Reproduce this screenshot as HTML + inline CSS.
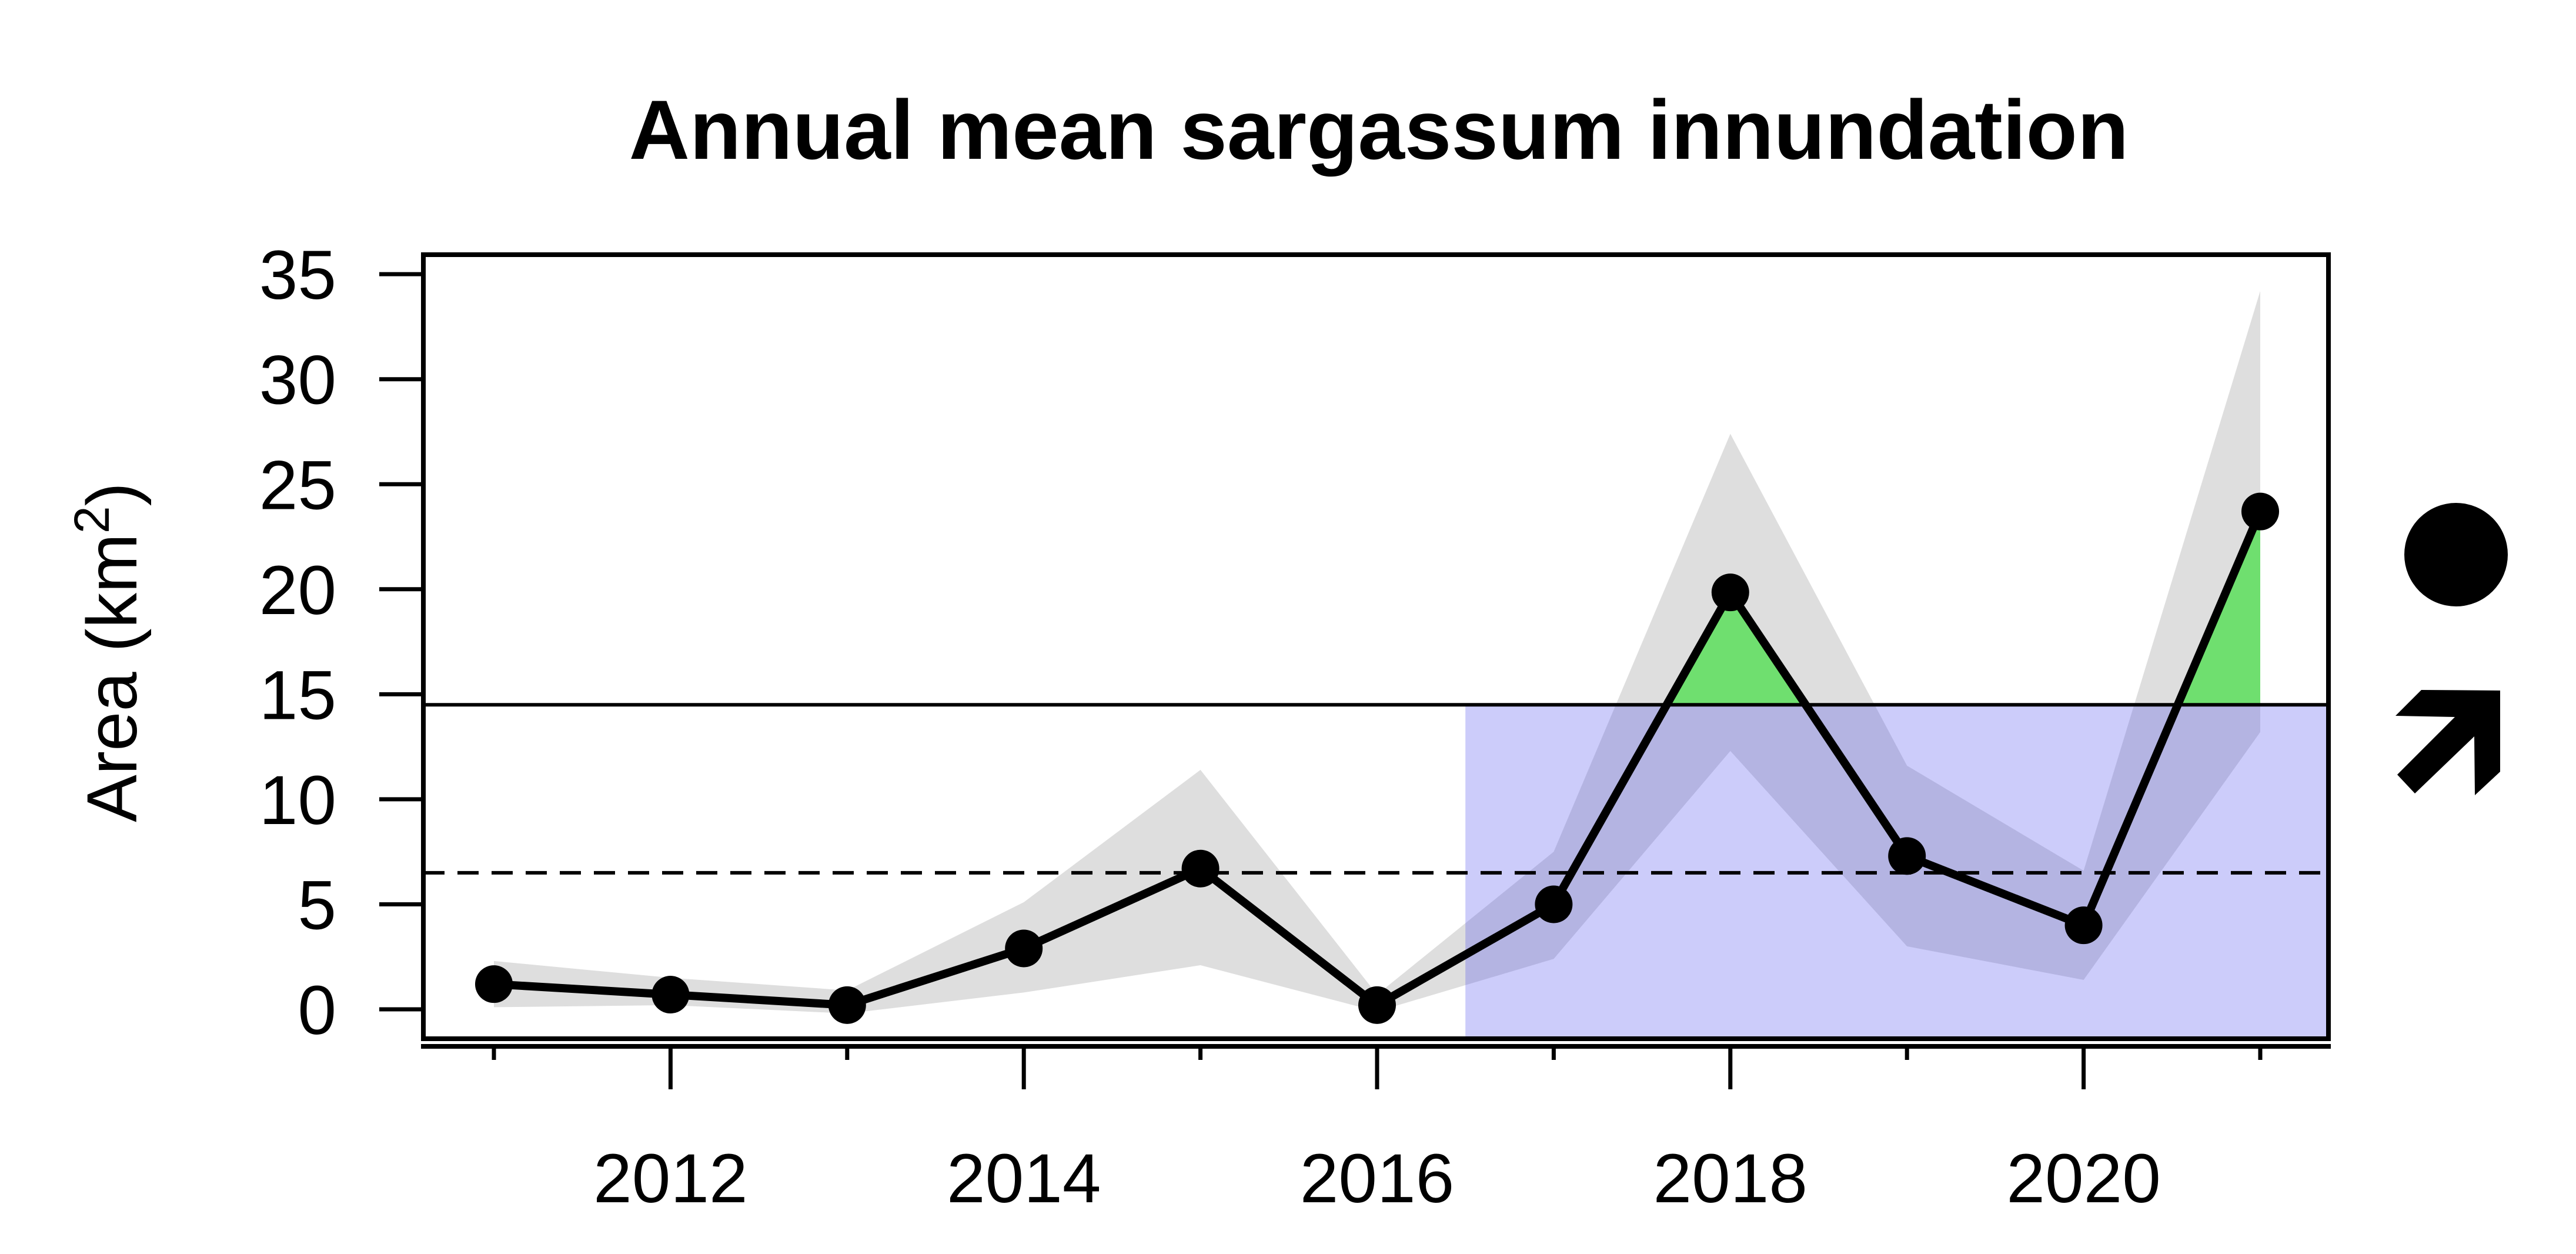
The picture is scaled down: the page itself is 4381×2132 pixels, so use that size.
<!DOCTYPE html>
<html><head><meta charset="utf-8"><style>
html,body{margin:0;padding:0;background:#fff}
svg{display:block}
text{font-family:"Liberation Sans",sans-serif;fill:#000}
</style></head><body>
<svg id="chart" width="4381" height="2132" viewBox="0 0 4381 2132" xmlns="http://www.w3.org/2000/svg">
<text x="2345" y="270" font-size="143" font-weight="bold" text-anchor="middle">Annual mean sargassum innundation</text>
<text transform="translate(232,1109) rotate(-90)" font-size="121" text-anchor="middle">Area (km<tspan font-size="84" dy="-47">2</tspan><tspan dy="47">)</tspan></text>
<g id="plot"></g>
<circle cx="4177" cy="943" r="88" fill="#000"/>
<polygon fill="#000" points="4074,1217 4118,1173 4252,1174 4252,1312 4209,1352 4208,1252 4107,1349 4077,1317 4175,1219"/>
</svg>
<script>
const years = [2011,2012,2013,2014,2015,2016,2017,2018,2019,2020,2021];
const meanValues = [1.2,0.7,0.2,2.9,6.7,0.2,5.0,19.85,7.3,4.0,23.7];
const upperValues = [2.3,1.5,0.9,5.1,11.4,0.7,7.5,27.4,11.6,6.6,34.2];
const lowerValues = [0.1,0.2,-0.2,0.8,2.1,-0.1,2.4,12.3,3.0,1.4,13.2];
const yTicks = [0,5,10,15,20,25,30,35];
const xLabelYears = [2012,2014,2016,2018,2020];
const upperThreshold = 14.5;
const meanLine = 6.5;
const recentStart = 2016.5;

const NS='http://www.w3.org/2000/svg';
const L=720,R=3960,T=433,B=1766;
const xs=y=>840+(y-2011)*300.4;
const ys=v=>1716-v*35.71;
const g=document.getElementById('plot');
function el(t,a){const e=document.createElementNS(NS,t);for(const k in a)e.setAttribute(k,a[k]);g.appendChild(e);return e;}

let bp=years.map((y,i)=>xs(y)+','+ys(upperValues[i]));
for(let i=years.length-1;i>=0;i--)bp.push(xs(years[i])+','+ys(lowerValues[i]));
let e=el('polygon',{points:bp.join(' '),fill:'#dedede'});



const th=ys(upperThreshold);
for(let i=0;i<years.length;i++){
  if(meanValues[i]<=upperThreshold)continue;
  let pts=[];
  if(i>0){const a=meanValues[i-1],b=meanValues[i];const t=(upperThreshold-a)/(b-a);pts.push([xs(years[i-1]+(a<upperThreshold?t:0)),th]);}
  else pts.push([xs(years[i]),th]);
  pts.push([xs(years[i]),ys(meanValues[i])]);
  if(i<years.length-1){const a=meanValues[i],b=meanValues[i+1];const t=(a-upperThreshold)/(a-b);pts.push([xs(years[i]+(b<upperThreshold?t:1)),th]);}
  else pts.push([xs(years[i]),th]);
  e=el('polygon',{points:pts.map(p=>p.join(',')).join(' '),fill:'#6fdf6f'});
  
  
}

e=el('rect',{x:xs(recentStart),y:th,width:R-xs(recentStart),height:B-th,fill:'rgba(66,66,236,0.27)'});



e=el('line',{x1:L,x2:R,y1:th,y2:th,stroke:'#000','stroke-width':6});


e=el('line',{x1:L,x2:R,y1:ys(meanLine),y2:ys(meanLine),stroke:'#000','stroke-width':6,'stroke-dasharray':'36,22'});



e=el('polyline',{points:years.map((y,i)=>xs(y)+','+ys(meanValues[i])).join(' '),fill:'none',stroke:'#000','stroke-width':14,'stroke-linejoin':'round'});


years.forEach((y,i)=>{
  const c=el('circle',{cx:xs(y),cy:ys(meanValues[i]),r:32,fill:'#000'});
  
  
});

e=el('rect',{x:L,y:T,width:R-L,height:B-T,fill:'none',stroke:'#000','stroke-width':8});


e=el('line',{x1:L-4,x2:R+4,y1:1779,y2:1779,stroke:'#000','stroke-width':8});



years.forEach(y=>{
  const major=xLabelYears.includes(y);
  const t=el('line',{x1:xs(y),x2:xs(y),y1:1779,y2:major?1852:1802,stroke:'#000','stroke-width':7});
  
  
});
xLabelYears.forEach(y=>{
  const t=el('text',{x:xs(y),y:2044,'font-size':118,'text-anchor':'middle'});
  t.textContent=y;
  
  
});
yTicks.forEach(v=>{
  const t=el('line',{x1:645,x2:L,y1:ys(v),y2:ys(v),stroke:'#000','stroke-width':7});
  
  
  const l=el('text',{x:572,y:ys(v)+42,'font-size':118,'text-anchor':'end'});
  l.textContent=v;
  
  
});
</script>
</body></html>
